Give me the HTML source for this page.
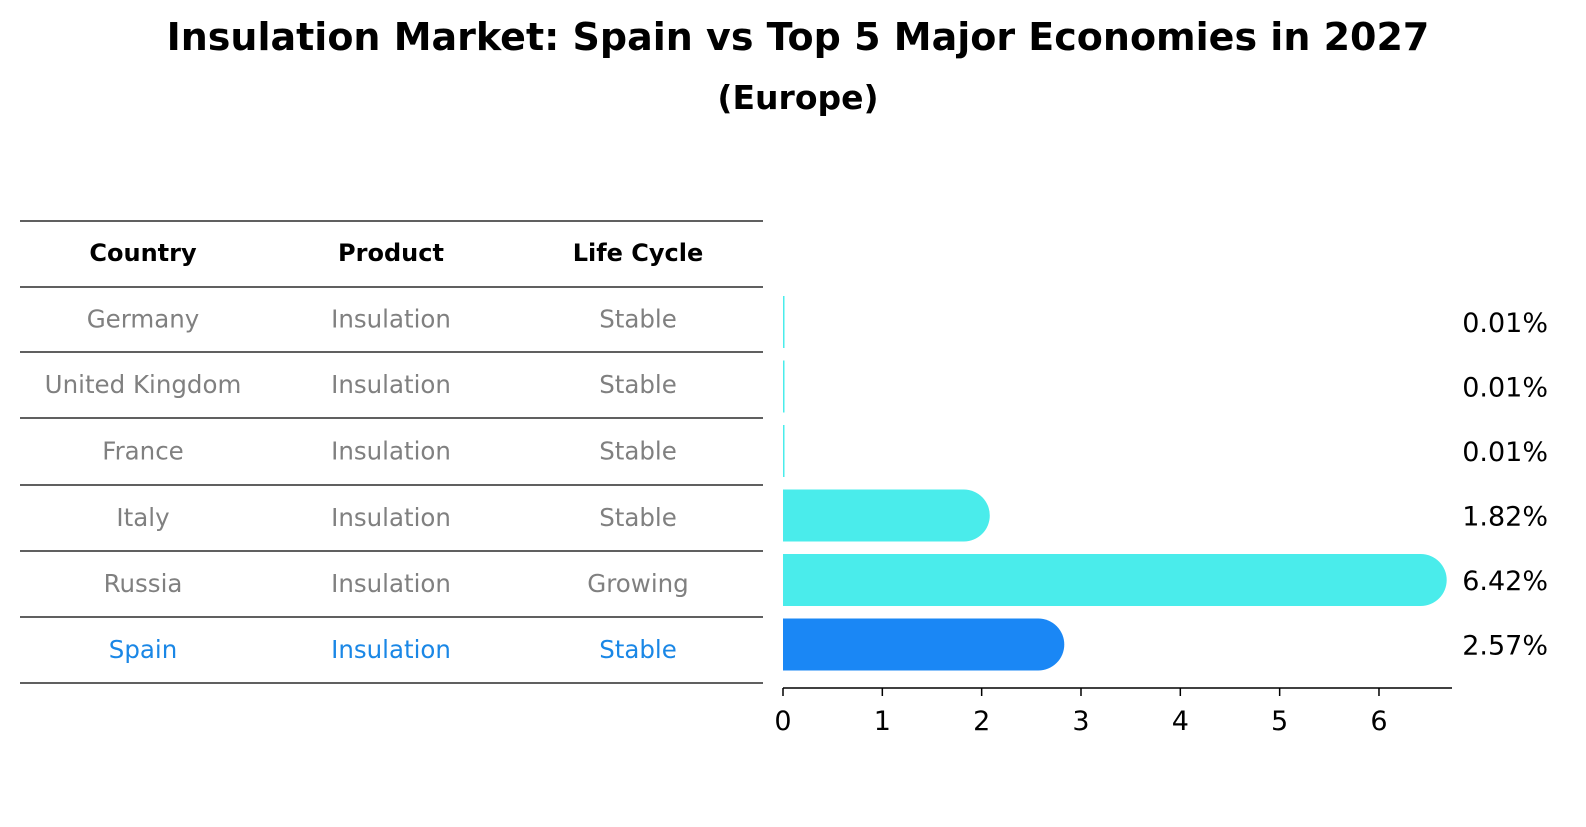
<!DOCTYPE html>
<html><head><meta charset="utf-8"><style>
body{margin:0;background:#fff;font-family:"DejaVu Sans","Liberation Sans",sans-serif}
</style></head><body>
<svg width="1586" height="823" xmlns="http://www.w3.org/2000/svg" font-family="DejaVu Sans, Liberation Sans, sans-serif">
<text x="798" y="50" text-anchor="middle" font-size="38" font-weight="bold">Insulation Market: Spain vs Top 5 Major Economies in 2027</text>
<text x="798" y="109" text-anchor="middle" font-size="33" font-weight="bold">(Europe)</text>
<g id="table"></g>
<g id="bars"></g>
</svg>
<script>
const countries=["Germany","United Kingdom","France","Italy","Russia","Spain"];
const products=["Insulation","Insulation","Insulation","Insulation","Insulation","Insulation"];
const lifecycles=["Stable","Stable","Stable","Stable","Growing","Stable"];
const values=[0.01,0.01,0.01,1.82,6.42,2.57];
const valueLabels=["0.01%","0.01%","0.01%","1.82%","6.42%","2.57%"];
const xTicks=[0,1,2,3,4,5,6];
const NS="http://www.w3.org/2000/svg";
function mk(t,a,p,txt){const e=document.createElementNS(NS,t);for(const k in a)e.setAttribute(k,a[k]);if(txt!==undefined)e.textContent=txt;p.appendChild(e);return e;}
const tb=document.getElementById('table'),bg=document.getElementById('bars');
const lineYs=[221,287,352,418,485,551,617,683];
lineYs.forEach(y=>{const l=mk('line',{x1:20,x2:763,y1:y,y2:y,stroke:'#000','stroke-width':1.2},tb);

});
const colX=[143,391,638];
["Country","Product","Life Cycle"].forEach((h,i)=>{const t=mk('text',{x:colX[i],y:261,'text-anchor':'middle','font-size':24,'font-weight':'bold'},tb,h);

});
const rowY=i=>(lineYs[i+1]+lineYs[i+2])/2+8;
countries.forEach((c,i)=>{const col=c==="Spain"?"#1a87e6":"#808080";
[c,products[i],lifecycles[i]].forEach((v,j)=>{const t=mk('text',{x:colX[j],y:rowY(i),'text-anchor':'middle','font-size':24.5,fill:col},tb,v);

});});
const x0=783,ppu=99.33;const xs=v=>x0+v*ppu;
const cy=i=>322+i*64.5;const h=52;
values.forEach((v,i)=>{const col=countries[i]==="Spain"?"#1a87f5":"#4aeceb";
const xe=xs(v);const y=cy(i)-h/2;
let d;
if(v<0.1){d=`M${x0},${y}H${x0+1.5}V${y+h}H${x0}Z`;}
else d=`M${x0},${y}H${xe}A${h/2},${h/2} 0 0 1 ${xe},${y+h}H${x0}Z`;
const p=mk('path',{d:d,fill:col},bg);


const t=mk('text',{x:1548,y:cy(i)+10,'text-anchor':'end','font-size':27},bg,valueLabels[i]);

});
const ax=mk('line',{x1:x0,x2:1452,y1:688,y2:688,stroke:'#000','stroke-width':1.5},bg);


xTicks.forEach(v=>{const l=mk('line',{x1:xs(v),x2:xs(v),y1:688,y2:696,stroke:'#000','stroke-width':1.5},bg);


const t=mk('text',{x:xs(v),y:730,'text-anchor':'middle','font-size':27},bg,String(v));

});
</script>
</body></html>
